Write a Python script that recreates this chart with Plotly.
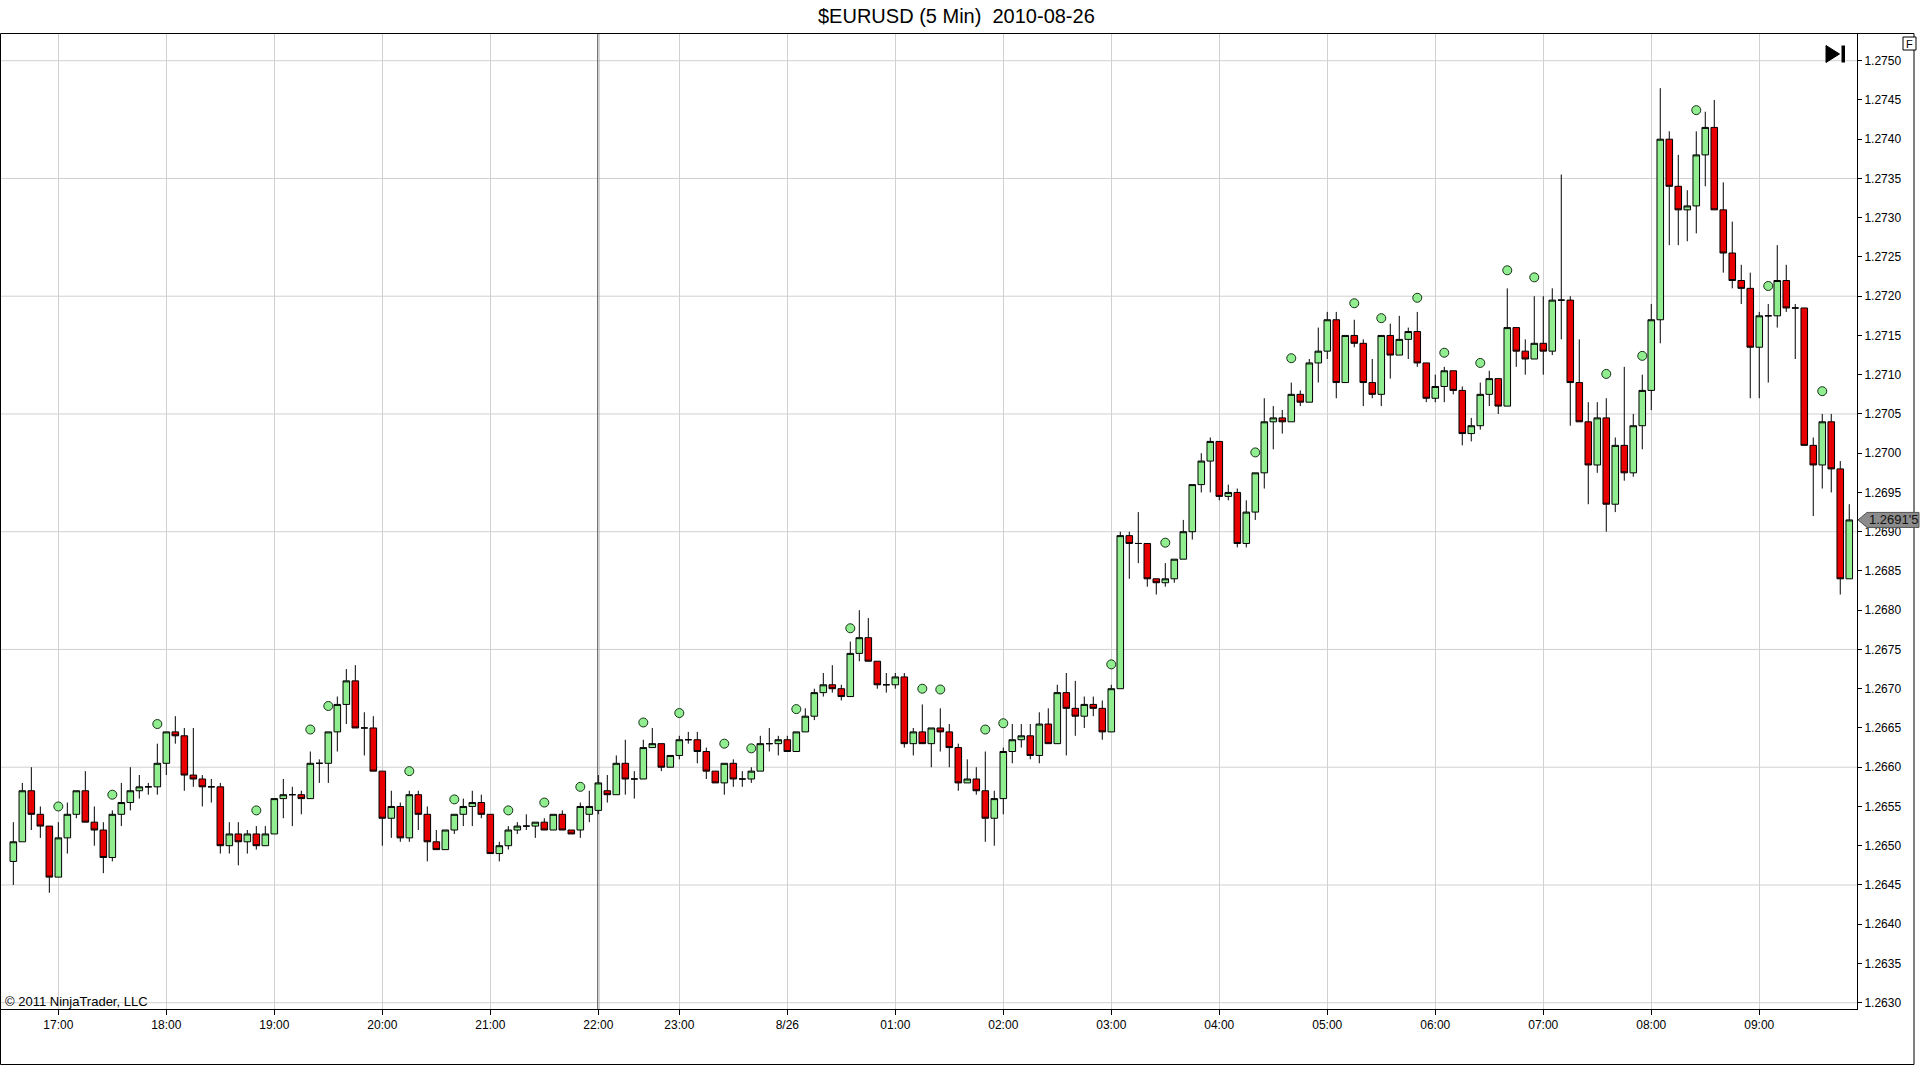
import pandas as pd
import plotly.graph_objects as go

# ---------------- data ----------------
TITLE = "$EURUSD (5 Min)\u00a0 2010-08-26"
COPYRIGHT = "\u00a9 2011 NinjaTrader, LLC"
LAST_PRICE_TEXT = "1.2691'5"
LAST_PRICE = 1.26915

session1_start, session1_bars = "2010-08-25 16:35", 66
session2_start, session2_bars = "2010-08-25 22:20", 139
SESSION_BREAK = "22:00"

opens = [
    1.26480, 1.26505, 1.26570, 1.26540, 1.26525, 1.26460, 1.26510, 1.26540, 1.26570, 1.26530,
    1.26520, 1.26485, 1.26540, 1.26555, 1.26570, 1.26575, 1.26575, 1.26605, 1.26645, 1.26640,
    1.26590, 1.26585, 1.26575, 1.26575, 1.26500, 1.26515, 1.26505, 1.26515, 1.26500, 1.26515,
    1.26560, 1.26565, 1.26565, 1.26560, 1.26605, 1.26605, 1.26645, 1.26680, 1.26710, 1.26650,
    1.26650, 1.26595, 1.26535, 1.26550, 1.26510, 1.26565, 1.26540, 1.26505, 1.26495, 1.26520,
    1.26540, 1.26550, 1.26555, 1.26540, 1.26490, 1.26500, 1.26520, 1.26525, 1.26525, 1.26530,
    1.26520, 1.26540, 1.26520, 1.26520, 1.26540, 1.26545, 1.26570, 1.26565, 1.26605, 1.26585,
    1.26585, 1.26625, 1.26630, 1.26600, 1.26615, 1.26635, 1.26635, 1.26620, 1.26595, 1.26580,
    1.26605, 1.26585, 1.26585, 1.26595, 1.26630, 1.26630, 1.26635, 1.26620, 1.26645, 1.26665,
    1.26695, 1.26705, 1.26700, 1.26690, 1.26745, 1.26765, 1.26735, 1.26705, 1.26705, 1.26715,
    1.26630, 1.26645, 1.26630, 1.26650, 1.26645, 1.26625, 1.26580, 1.26585, 1.26570, 1.26535,
    1.26560, 1.26620, 1.26635, 1.26640, 1.26615, 1.26655, 1.26630, 1.26695, 1.26675, 1.26665,
    1.26680, 1.26675, 1.26645, 1.26700, 1.26895, 1.26885, 1.26885, 1.26840, 1.26835, 1.26840,
    1.26865, 1.26900, 1.26960, 1.26990, 1.27015, 1.26945, 1.26950, 1.26885, 1.26925, 1.26975,
    1.27040, 1.27045, 1.27040, 1.27075, 1.27065, 1.27115, 1.27130, 1.27170, 1.27090, 1.27150,
    1.27140, 1.27090, 1.27075, 1.27150, 1.27125, 1.27145, 1.27155, 1.27115, 1.27070, 1.27085,
    1.27105, 1.27080, 1.27025, 1.27035, 1.27075, 1.27095, 1.27060, 1.27160, 1.27130, 1.27120,
    1.27140, 1.27130, 1.27195, 1.27195, 1.27090, 1.27040, 1.26985, 1.27045, 1.26935, 1.27010,
    1.26975, 1.27035, 1.27080, 1.27170, 1.27400, 1.27340, 1.27310, 1.27315, 1.27380, 1.27415,
    1.27310, 1.27255, 1.27220, 1.27210, 1.27135, 1.27175, 1.27175, 1.27220, 1.27185, 1.27185,
    1.27010, 1.26985, 1.27040, 1.26980, 1.26840,
]
highs = [
    1.26530, 1.26580, 1.26600, 1.26550, 1.26525, 1.26530, 1.26555, 1.26570, 1.26595, 1.26550,
    1.26530, 1.26545, 1.26580, 1.26600, 1.26590, 1.26580, 1.26630, 1.26645, 1.26665, 1.26650,
    1.26650, 1.26590, 1.26585, 1.26580, 1.26530, 1.26530, 1.26520, 1.26525, 1.26525, 1.26560,
    1.26585, 1.26575, 1.26570, 1.26620, 1.26610, 1.26645, 1.26690, 1.26725, 1.26730, 1.26670,
    1.26665, 1.26595, 1.26570, 1.26555, 1.26570, 1.26570, 1.26550, 1.26520, 1.26520, 1.26540,
    1.26560, 1.26570, 1.26565, 1.26540, 1.26505, 1.26525, 1.26530, 1.26540, 1.26530, 1.26535,
    1.26540, 1.26545, 1.26520, 1.26555, 1.26570, 1.26590, 1.26590, 1.26615, 1.26635, 1.26595,
    1.26635, 1.26650, 1.26630, 1.26615, 1.26640, 1.26645, 1.26645, 1.26625, 1.26595, 1.26605,
    1.26610, 1.26595, 1.26600, 1.26640, 1.26650, 1.26640, 1.26640, 1.26645, 1.26675, 1.26700,
    1.26720, 1.26730, 1.26705, 1.26760, 1.26800, 1.26790, 1.26735, 1.26720, 1.26720, 1.26720,
    1.26650, 1.26680, 1.26650, 1.26675, 1.26655, 1.26630, 1.26610, 1.26600, 1.26620, 1.26570,
    1.26625, 1.26655, 1.26655, 1.26655, 1.26670, 1.26675, 1.26705, 1.26720, 1.26710, 1.26690,
    1.26690, 1.26685, 1.26705, 1.26900, 1.26900, 1.26925, 1.26885, 1.26840, 1.26860, 1.26865,
    1.26915, 1.26960, 1.27000, 1.27020, 1.27015, 1.26960, 1.26955, 1.26940, 1.26975, 1.27070,
    1.27060, 1.27055, 1.27090, 1.27080, 1.27120, 1.27160, 1.27180, 1.27180, 1.27150, 1.27170,
    1.27145, 1.27120, 1.27150, 1.27165, 1.27175, 1.27160, 1.27180, 1.27115, 1.27100, 1.27110,
    1.27105, 1.27085, 1.27045, 1.27090, 1.27105, 1.27095, 1.27210, 1.27160, 1.27145, 1.27200,
    1.27200, 1.27210, 1.27355, 1.27200, 1.27145, 1.27065, 1.27065, 1.27070, 1.27020, 1.27110,
    1.27050, 1.27100, 1.27190, 1.27465, 1.27410, 1.27380, 1.27335, 1.27410, 1.27435, 1.27450,
    1.27345, 1.27295, 1.27240, 1.27230, 1.27180, 1.27190, 1.27265, 1.27240, 1.27190, 1.27185,
    1.27020, 1.27050, 1.27050, 1.26990, 1.26935,
]
lows = [
    1.26450, 1.26505, 1.26520, 1.26510, 1.26440, 1.26460, 1.26490, 1.26535, 1.26530, 1.26500,
    1.26465, 1.26480, 1.26525, 1.26545, 1.26560, 1.26565, 1.26565, 1.26590, 1.26630, 1.26570,
    1.26575, 1.26550, 1.26555, 1.26490, 1.26490, 1.26475, 1.26490, 1.26495, 1.26500, 1.26515,
    1.26535, 1.26525, 1.26540, 1.26560, 1.26580, 1.26580, 1.26620, 1.26655, 1.26650, 1.26615,
    1.26595, 1.26500, 1.26510, 1.26505, 1.26505, 1.26520, 1.26480, 1.26495, 1.26495, 1.26515,
    1.26525, 1.26525, 1.26535, 1.26490, 1.26480, 1.26495, 1.26515, 1.26520, 1.26510, 1.26520,
    1.26520, 1.26520, 1.26515, 1.26510, 1.26530, 1.26540, 1.26555, 1.26565, 1.26565, 1.26560,
    1.26585, 1.26625, 1.26595, 1.26600, 1.26610, 1.26630, 1.26605, 1.26585, 1.26580, 1.26565,
    1.26575, 1.26575, 1.26580, 1.26595, 1.26620, 1.26615, 1.26620, 1.26620, 1.26645, 1.26660,
    1.26690, 1.26695, 1.26685, 1.26690, 1.26735, 1.26735, 1.26700, 1.26695, 1.26700, 1.26625,
    1.26615, 1.26630, 1.26600, 1.26620, 1.26600, 1.26570, 1.26580, 1.26565, 1.26505, 1.26500,
    1.26540, 1.26605, 1.26625, 1.26610, 1.26605, 1.26630, 1.26630, 1.26615, 1.26640, 1.26650,
    1.26665, 1.26635, 1.26645, 1.26700, 1.26840, 1.26860, 1.26830, 1.26820, 1.26830, 1.26835,
    1.26865, 1.26890, 1.26950, 1.26950, 1.26940, 1.26940, 1.26880, 1.26880, 1.26915, 1.26955,
    1.27005, 1.27025, 1.27040, 1.27060, 1.27065, 1.27090, 1.27120, 1.27070, 1.27090, 1.27135,
    1.27060, 1.27070, 1.27060, 1.27095, 1.27125, 1.27120, 1.27110, 1.27065, 1.27065, 1.27065,
    1.27075, 1.27010, 1.27015, 1.27030, 1.27060, 1.27050, 1.27060, 1.27110, 1.27100, 1.27120,
    1.27100, 1.27125, 1.27145, 1.27035, 1.27040, 1.26935, 1.26975, 1.26900, 1.26925, 1.26965,
    1.26970, 1.27005, 1.27055, 1.27140, 1.27265, 1.27265, 1.27270, 1.27280, 1.27340, 1.27310,
    1.27230, 1.27210, 1.27190, 1.27070, 1.27070, 1.27090, 1.27160, 1.27180, 1.27120, 1.27010,
    1.26920, 1.26955, 1.26950, 1.26820, 1.26840,
]
closes = [
    1.26505, 1.26570, 1.26540, 1.26525, 1.26460, 1.26510, 1.26540, 1.26570, 1.26530, 1.26520,
    1.26485, 1.26540, 1.26555, 1.26570, 1.26575, 1.26575, 1.26605, 1.26645, 1.26640, 1.26590,
    1.26585, 1.26575, 1.26575, 1.26500, 1.26515, 1.26505, 1.26515, 1.26500, 1.26515, 1.26560,
    1.26565, 1.26565, 1.26560, 1.26605, 1.26605, 1.26645, 1.26680, 1.26710, 1.26650, 1.26650,
    1.26595, 1.26535, 1.26550, 1.26510, 1.26565, 1.26540, 1.26505, 1.26495, 1.26520, 1.26540,
    1.26550, 1.26555, 1.26540, 1.26490, 1.26500, 1.26520, 1.26525, 1.26525, 1.26530, 1.26520,
    1.26540, 1.26520, 1.26515, 1.26550, 1.26550, 1.26580, 1.26565, 1.26605, 1.26585, 1.26585,
    1.26625, 1.26630, 1.26600, 1.26615, 1.26635, 1.26635, 1.26620, 1.26595, 1.26580, 1.26605,
    1.26585, 1.26585, 1.26595, 1.26630, 1.26630, 1.26635, 1.26620, 1.26645, 1.26665, 1.26695,
    1.26705, 1.26700, 1.26690, 1.26745, 1.26765, 1.26735, 1.26705, 1.26705, 1.26715, 1.26630,
    1.26645, 1.26630, 1.26650, 1.26645, 1.26625, 1.26580, 1.26585, 1.26570, 1.26535, 1.26560,
    1.26620, 1.26635, 1.26640, 1.26615, 1.26655, 1.26630, 1.26695, 1.26675, 1.26665, 1.26680,
    1.26675, 1.26645, 1.26700, 1.26895, 1.26885, 1.26885, 1.26840, 1.26835, 1.26840, 1.26865,
    1.26900, 1.26960, 1.26990, 1.27015, 1.26945, 1.26950, 1.26885, 1.26925, 1.26975, 1.27040,
    1.27045, 1.27040, 1.27075, 1.27065, 1.27115, 1.27130, 1.27170, 1.27090, 1.27150, 1.27140,
    1.27090, 1.27075, 1.27150, 1.27125, 1.27145, 1.27155, 1.27115, 1.27070, 1.27085, 1.27105,
    1.27080, 1.27025, 1.27035, 1.27075, 1.27095, 1.27060, 1.27160, 1.27130, 1.27120, 1.27140,
    1.27130, 1.27195, 1.27195, 1.27090, 1.27040, 1.26985, 1.27045, 1.26935, 1.27010, 1.26975,
    1.27035, 1.27080, 1.27170, 1.27400, 1.27340, 1.27310, 1.27315, 1.27380, 1.27415, 1.27310,
    1.27255, 1.27220, 1.27210, 1.27135, 1.27175, 1.27175, 1.27220, 1.27185, 1.27185, 1.27010,
    1.26985, 1.27040, 1.26980, 1.26840, 1.26915,
]

dot_times = [
    "17:00", "17:30", "17:55", "18:50", "19:20", "19:30", "20:15", "20:40", "21:10", "21:30",
    "21:50", "22:40", "23:00", "23:25", "23:40", "00:05", "00:35", "01:15", "01:25", "01:50",
    "02:00", "03:00", "03:30", "04:20", "04:40", "05:15", "05:30", "05:50", "06:05", "06:25",
    "06:40", "06:55", "07:35", "07:55", "08:25", "09:05", "09:35",
]
dot_prices = [
    1.26550, 1.26565, 1.26655, 1.26545, 1.26648, 1.26678, 1.26595, 1.26559, 1.26545, 1.26555,
    1.26575, 1.26657, 1.26669, 1.26630, 1.26624, 1.26674, 1.26777, 1.26700, 1.26699, 1.26648,
    1.26656, 1.26731, 1.26886, 1.27001, 1.27121, 1.27191, 1.27172, 1.27198, 1.27128, 1.27115,
    1.27233, 1.27224, 1.27101, 1.27124, 1.27437, 1.27213, 1.27079,
]

y_label_first, y_label_last, y_label_step = 1.2630, 1.2750, 0.0005
grid_step = 0.0015

# ---------------- build ----------------
times = (list(pd.date_range(session1_start, periods=session1_bars, freq="5min"))
         + list(pd.date_range(session2_start, periods=session2_bars, freq="5min")))
n = len(times)
assert len(opens) == n and len(highs) == n and len(lows) == n and len(closes) == n
assert len(dot_times) == len(dot_prices)
idx = list(range(n))
hhmm = [t.strftime("%H:%M") for t in times]
pos = {s: i for i, s in enumerate(hhmm)}

tickvals = [i for i, t in enumerate(times) if t.minute == 0]
ticktext = [(f"{t.month}/{t.day}" if t.hour == 0 else t.strftime("%H:%M"))
            for t in times if t.minute == 0]

n_labels = int(round((y_label_last - y_label_first) / y_label_step)) + 1
y_tickvals = [round(y_label_first + k * y_label_step, 4) for k in range(n_labels)]
y_ticktext = [f"{v:.4f}" for v in y_tickvals]
n_grid = int(round((y_label_last - y_label_first) / grid_step)) + 1
y_grid = [round(y_label_first + k * grid_step, 4) for k in range(n_grid)]

W, H = 1920, 1065
ML, MR, MT, MB = 1, 63, 34, 56
PW, PH = W - ML - MR, H - MT - MB


def xp(px):
    return (px - ML) / PW


def yp(py):
    return (H - MB - py) / PH


x_range = [-1.37, n - 1 + 0.86]
y_range = [1.26292, 1.27534]
FONT = "Liberation Sans, Arial, sans-serif"
GRID = "#D0D0D0"

fig = go.Figure()
fig.add_trace(go.Candlestick(
    x=idx, open=opens, high=highs, low=lows, close=closes,
    increasing=dict(fillcolor="#90EE90", line=dict(color="#000000", width=1)),
    decreasing=dict(fillcolor="#E80000", line=dict(color="#000000", width=1)),
    whiskerwidth=0, hoverinfo="skip", showlegend=False,
))
fig.add_trace(go.Scatter(
    x=[pos[t] for t in dot_times], y=dot_prices, mode="markers",
    marker=dict(size=9, color="#90EE90", line=dict(color="#163016", width=1)),
    hoverinfo="skip", showlegend=False,
))

shapes = []
for g in y_grid:
    shapes.append(dict(type="line", xref="paper", yref="y", x0=0, x1=1, y0=g, y1=g,
                       line=dict(color=GRID, width=1), layer="below"))
sb = pos[SESSION_BREAK]
shapes.append(dict(type="line", xref="x", yref="paper", x0=sb, x1=sb, y0=0, y1=1,
                   line=dict(color="#000000", width=1.7), layer="between"))
# outer frame
shapes.append(dict(type="rect", xref="paper", yref="paper",
                   x0=xp(0.5), x1=xp(1914), y0=yp(1064.5), y1=yp(33.5),
                   line=dict(color="#000000", width=1), layer="above"))
# last price marker
hh = 7.5 * (y_range[1] - y_range[0]) / PH
p = LAST_PRICE
shapes.append(dict(type="path", xref="paper", yref="y",
                   path=(f"M {xp(1858)},{p} L {xp(1867)},{p + hh} L {xp(1919)},{p + hh} "
                         f"L {xp(1919)},{p - hh} L {xp(1867)},{p - hh} Z"),
                   fillcolor="#8C8C8C", line=dict(color="#555555", width=1), layer="above"))
# "go to end" icon
shapes.append(dict(type="path", xref="paper", yref="paper",
                   path=f"M {xp(1826)},{yp(45.5)} L {xp(1839.5)},{yp(54)} L {xp(1826)},{yp(62.5)} Z",
                   fillcolor="#000000", line=dict(color="#000000", width=1), layer="above"))
shapes.append(dict(type="rect", xref="paper", yref="paper",
                   x0=xp(1841.5), x1=xp(1845), y0=yp(62.5), y1=yp(45.5),
                   fillcolor="#000000", line=dict(color="#000000", width=0), layer="above"))
# "F" box
shapes.append(dict(type="rect", xref="paper", yref="paper",
                   x0=xp(1903), x1=xp(1916), y0=yp(50), y1=yp(37),
                   fillcolor="#FFFFFF", line=dict(color="#000000", width=1), layer="above"))

annotations = [
    dict(text=TITLE, xref="paper", yref="paper", x=xp(956), y=yp(16),
         xanchor="center", yanchor="middle", showarrow=False,
         font=dict(family=FONT, size=20, color="#000000")),
    dict(text=COPYRIGHT, xref="paper", yref="paper", x=xp(3), y=yp(1001),
         xanchor="left", yanchor="middle", showarrow=False,
         font=dict(family=FONT, size=13, color="#000000")),
    dict(text="F", xref="paper", yref="paper", x=xp(1909.5), y=yp(43.5),
         xanchor="center", yanchor="middle", showarrow=False,
         font=dict(family=FONT, size=11, color="#000000")),
    dict(text=LAST_PRICE_TEXT, xref="paper", yref="y", x=xp(1893), y=LAST_PRICE,
         xanchor="center", yanchor="middle", showarrow=False,
         font=dict(family=FONT, size=13, color="#111111")),
]

fig.update_layout(
    width=W, height=H,
    margin=dict(l=ML, r=MR, t=MT, b=MB, pad=0),
    paper_bgcolor="#FFFFFF", plot_bgcolor="#FFFFFF",
    boxgap=0.27, boxgroupgap=0,
    showlegend=False,
    shapes=shapes, annotations=annotations,
    font=dict(family=FONT, size=12, color="#000000"),
    xaxis=dict(
        type="linear", range=x_range, rangeslider=dict(visible=False),
        tickmode="array", tickvals=tickvals, ticktext=ticktext,
        ticks="outside", ticklen=5, tickcolor="#000000", tickwidth=1,
        showgrid=True, gridcolor=GRID, gridwidth=1, zeroline=False,
        showline=True, linecolor="#000000", linewidth=1,
        tickfont=dict(family=FONT, size=12, color="#000000"), fixedrange=True,
    ),
    yaxis=dict(
        side="right", range=y_range,
        tickmode="array", tickvals=y_tickvals, ticktext=y_ticktext,
        ticks="outside", ticklen=4, tickcolor="#000000", tickwidth=1,
        showgrid=False, zeroline=False,
        showline=True, linecolor="#000000", linewidth=1,
        tickfont=dict(family=FONT, size=12, color="#000000"), fixedrange=True,
    ),
)

fig.write_html("out.html", config={"displayModeBar": False},
               post_script="document.body.style.margin='0';document.body.style.overflow='hidden';")
